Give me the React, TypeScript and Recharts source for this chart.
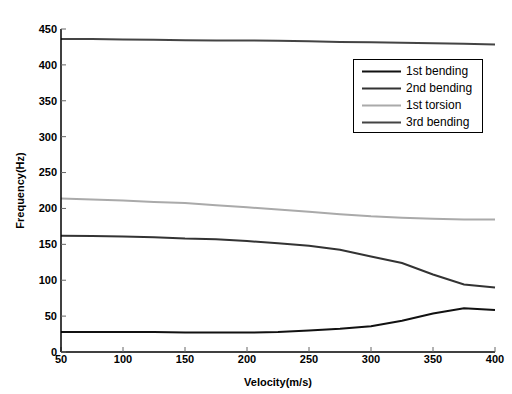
import React from "react";
import { LineChart, Line, XAxis, YAxis, Legend, Label } from "recharts";

const velocity = [50, 75, 100, 125, 150, 175, 200, 225, 250, 275, 300, 325, 350, 375, 400];
const bending1 = [28, 28, 28, 28, 27, 27, 27, 28, 30, 32.5, 36, 43.5, 53.5, 61, 58.5];
const bending2 = [162, 161.5, 161, 160, 158, 157, 154.5, 151.5, 148, 142.5, 133, 124, 108, 94, 90];
const torsion1 = [214, 212.5, 211, 209, 207.5, 204.5, 201.5, 198.5, 195.5, 192, 189, 187, 185.5, 184.5, 184.5];
const bending3 = [436, 436, 435.5, 435, 434.5, 434, 434, 433.5, 433, 432, 431.5, 431, 430, 429.5, 428.5];

const seriesNames = ["1st bending", "2nd bending", "1st torsion", "3rd bending"];
const xTicks = [50, 100, 150, 200, 250, 300, 350, 400];
const yTicks = [0, 50, 100, 150, 200, 250, 300, 350, 400, 450];

const data = velocity.map((v, i) => ({
  v,
  b1: bending1[i],
  b2: bending2[i],
  t1: torsion1[i],
  b3: bending3[i],
}));

const FONT = "Arial, 'Liberation Sans', sans-serif";
const tickStyle = { fontSize: 11, fontWeight: 700, fill: "#000", fontFamily: FONT };

const LegendBox = (props: any) => {
  const payload = [...(props.payload || [])].sort(
    (a: any, b: any) => seriesNames.indexOf(a.value) - seriesNames.indexOf(b.value)
  );
  return (
    <div
      style={{
        border: "1px solid #000",
        background: "#fff",
        width: 128,
        height: 69,
        boxSizing: "content-box",
        fontFamily: FONT,
        fontSize: 12,
        paddingTop: 3,
        textAlign: "left",
      }}
    >
      {payload.map((p: any) => (
        <div key={p.value} style={{ display: "flex", alignItems: "center", height: 17 }}>
          <svg width={52} height={17} style={{ display: "block" }}>
            <line x1={8} y1={8.5} x2={47} y2={8.5} stroke={p.color} strokeWidth={2} />
          </svg>
          <span style={{ lineHeight: "17px", color: "#000" }}>{p.value}</span>
        </div>
      ))}
    </div>
  );
};

export default function App() {
  return (
    <div style={{ position: "absolute", left: 0, top: 0, background: "#fff" }}>
      <LineChart
        width={512}
        height={394}
        data={data}
        margin={{ top: 29, right: 17, bottom: 8, left: 11 }}
      >
        <XAxis
          dataKey="v"
          type="number"
          domain={[50, 400]}
          ticks={xTicks}
          height={34}
          tick={tickStyle}
          tickSize={-5}
          tickMargin={8}
          axisLine={{ stroke: "#000", strokeWidth: 1.5 }}
          tickLine={{ stroke: "#666" }}
        >
          <Label
            value="Velocity(m/s)"
            position="insideBottom"
            offset={0}
            style={{ fontSize: 11, fontWeight: 700, fill: "#000", fontFamily: FONT }}
          />
        </XAxis>
        <XAxis
          xAxisId="top"
          orientation="top"
          dataKey="v"
          type="number"
          domain={[50, 400]}
          ticks={xTicks}
          height={0}
          tickFormatter={() => ""}
          tickSize={-5}
          axisLine={{ stroke: "#000", strokeWidth: 1.5 }}
          tickLine={{ stroke: "#666" }}
        >
          <Label
            value="Velocity Vs frequency"
            position="top"
            offset={11}
            style={{ fontSize: 11, fontWeight: 700, fill: "#000", fontFamily: FONT }}
          />
        </XAxis>
        <YAxis
          type="number"
          domain={[0, 450]}
          ticks={yTicks}
          width={50}
          tick={tickStyle}
          tickSize={-5}
          tickMargin={9}
          axisLine={{ stroke: "#000", strokeWidth: 1.5 }}
          tickLine={{ stroke: "#666" }}
        >
          <Label
            value="Frequency(Hz)"
            angle={-90}
            position="insideLeft"
            offset={9}
            style={{ fontSize: 11, fontWeight: 700, fill: "#000", fontFamily: FONT, textAnchor: "middle" }}
          />
        </YAxis>
        <YAxis
          yAxisId="right"
          orientation="right"
          type="number"
          domain={[0, 450]}
          ticks={yTicks}
          width={0}
          tickFormatter={() => ""}
          tickSize={-5}
          axisLine={{ stroke: "#000", strokeWidth: 1.5 }}
          tickLine={{ stroke: "#666" }}
        />
        <Legend
          layout="horizontal"
          verticalAlign="middle"
          align="center"
          content={<LegendBox />}
          wrapperStyle={{ position: "absolute", left: 353, top: 59, width: 130 }}
        />
        <Line dataKey="b1" name="1st bending" stroke="#111" strokeWidth={2} dot={false} isAnimationActive={false} type="linear" />
        <Line dataKey="b2" name="2nd bending" stroke="#333" strokeWidth={2} dot={false} isAnimationActive={false} type="linear" />
        <Line dataKey="t1" name="1st torsion" stroke="#aaa" strokeWidth={2} dot={false} isAnimationActive={false} type="linear" />
        <Line dataKey="b3" name="3rd bending" stroke="#444" strokeWidth={2} dot={false} isAnimationActive={false} type="linear" />
      </LineChart>
    </div>
  );
}
